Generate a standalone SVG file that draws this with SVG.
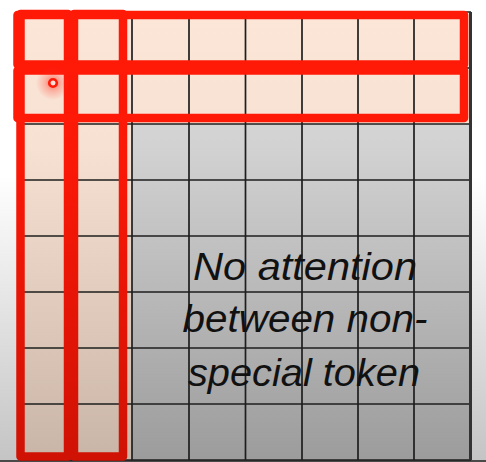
<svg xmlns="http://www.w3.org/2000/svg" width="486" height="462" viewBox="0 0 486 462">
<defs>
<linearGradient id="bg" x1="0" y1="0" x2="0" y2="462" gradientUnits="userSpaceOnUse">
<stop offset="0" stop-color="#ffffff"/>
<stop offset="0.38" stop-color="#ffffff"/>
<stop offset="1" stop-color="#c4c4c4"/>
</linearGradient>
<linearGradient id="gray" x1="0" y1="12" x2="0" y2="460" gradientUnits="userSpaceOnUse">
<stop offset="0" stop-color="#dedede"/>
<stop offset="0.3" stop-color="#d2d2d2"/>
<stop offset="1" stop-color="#9c9c9c"/>
</linearGradient>
<linearGradient id="peach" x1="0" y1="12" x2="0" y2="460" gradientUnits="userSpaceOnUse">
<stop offset="0" stop-color="#fce6d7"/>
<stop offset="0.3" stop-color="#f7e1d2"/>
<stop offset="1" stop-color="#c9b5a7"/>
</linearGradient>
<linearGradient id="redcol" x1="0" y1="12" x2="0" y2="460" gradientUnits="userSpaceOnUse">
<stop offset="0" stop-color="#ff1a08"/>
<stop offset="0.35" stop-color="#fa1807"/>
<stop offset="1" stop-color="#cf1204"/>
</linearGradient>
<radialGradient id="glow">
<stop offset="0" stop-color="#ff2a1a" stop-opacity="0.6"/>
<stop offset="0.5" stop-color="#ff2a1a" stop-opacity="0.25"/>
<stop offset="1" stop-color="#ff2a1a" stop-opacity="0"/>
</radialGradient>
<style>
.grid line{stroke:#1e1e1e;stroke-width:1.7}
.hl{fill:none;stroke:#ff1a08;stroke-width:8.5;stroke-linejoin:round}
.col{stroke:url(#redcol)}
.lbl{font-family:"Liberation Sans","DejaVu Sans",sans-serif;font-style:italic;font-size:38px;fill:#111;text-anchor:middle}
</style>
</defs>
<rect x="0" y="0" width="486" height="462" fill="url(#bg)"/>
<rect x="0" y="460" width="486" height="2" fill="#4a4a4a"/>
<g id="matrix">
<rect x="20" y="12" width="450" height="448" fill="url(#gray)"/>
<rect x="20" y="12" width="450" height="112" fill="url(#peach)"/>
<rect x="20" y="12" width="112" height="448" fill="url(#peach)"/>
<g class="grid">
<line x1="20" y1="12" x2="471" y2="12"/>
<line x1="20" y1="68" x2="471" y2="68"/>
<line x1="20" y1="124" x2="471" y2="124"/>
<line x1="20" y1="180" x2="471" y2="180"/>
<line x1="20" y1="236" x2="471" y2="236"/>
<line x1="20" y1="292" x2="471" y2="292"/>
<line x1="20" y1="348" x2="471" y2="348"/>
<line x1="20" y1="404" x2="471" y2="404"/>
<line x1="20" y1="460" x2="471" y2="460"/>
<line x1="20" y1="12" x2="20" y2="460"/>
<line x1="76" y1="12" x2="76" y2="460"/>
<line x1="132" y1="12" x2="132" y2="460"/>
<line x1="189" y1="12" x2="189" y2="460"/>
<line x1="245.5" y1="12" x2="245.5" y2="460"/>
<line x1="302" y1="12" x2="302" y2="460"/>
<line x1="358" y1="12" x2="358" y2="460"/>
<line x1="414" y1="12" x2="414" y2="460"/>
<line x1="470.5" y1="12" x2="470.5" y2="460" style="stroke-width:3;stroke:#333"/>
</g>
</g>
<g id="highlights">
<rect class="hl col" x="20.5" y="14" width="47.5" height="442.5"/>
<rect class="hl col" x="74" y="14" width="49" height="442.5"/>
<rect class="hl" x="17.5" y="15" width="446.5" height="49.5"/>
<rect class="hl" x="17.5" y="70.5" width="446.5" height="47.5"/>
</g>
<g id="label">
<text class="lbl" x="305" y="280" textLength="224" lengthAdjust="spacingAndGlyphs">No attention</text>
<text class="lbl" x="305" y="332" textLength="245" lengthAdjust="spacingAndGlyphs">between non-</text>
<text class="lbl" x="304" y="386" textLength="232" lengthAdjust="spacingAndGlyphs">special token</text>
</g>
<g id="pointer">
<circle cx="53" cy="83" r="17" fill="url(#glow)"/>
<circle cx="53" cy="83" r="3.8" fill="#fde0d8" stroke="#ff1a08" stroke-width="2.6"/>
</g>
</svg>
